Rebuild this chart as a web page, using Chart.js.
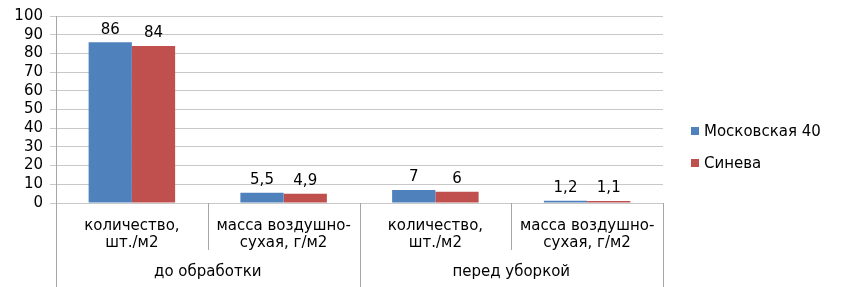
<!DOCTYPE html>
<html>
<head>
<meta charset="utf-8">
<script src="https://cdn.jsdelivr.net/npm/chart.js@4"></script>
<style>
  html, body { margin: 0; padding: 0; background: #fff; }
</style>
</head>
<body>
<canvas id="chart" width="843" height="287"></canvas>
<script>
const categories = [
  ["количество,", "шт./м2"],
  ["масса воздушно-", "сухая, г/м2"],
  ["количество,", "шт./м2"],
  ["масса воздушно-", "сухая, г/м2"],
];
const groups = ["до обработки", "перед уборкой"];
const moskovskaya = [86, 5.5, 7, 1.2];
const sineva = [84, 4.9, 6, 1.1];
const seriesNames = ["Московская 40", "Синева"];

const FONT = "'DejaVu Sans', sans-serif";
const AXIS_COLOR = "#a6a6a6";

// values on top of bars, decimal comma
const valueLabels = {
  id: "valueLabels",
  afterDatasetsDraw(chart) {
    const ctx = chart.ctx;
    ctx.save();
    ctx.font = "15px " + FONT;
    ctx.fillStyle = "#000";
    ctx.textAlign = "center";
    ctx.textBaseline = "bottom";
    chart.data.datasets.forEach((ds, i) => {
      chart.getDatasetMeta(i).data.forEach((bar, j) => {
        const txt = String(ds.data[j]).replace(".", ",");
        ctx.fillText(txt, bar.x, bar.y - 5);
      });
    });
    ctx.restore();
  },
};

// category separators, group labels, and the legend on the right
const groupAxis = {
  id: "groupAxis",
  afterDraw(chart) {
    const ctx = chart.ctx;
    const x = chart.scales.x;
    const area = chart.chartArea;
    const half = (x.getPixelForValue(1) - x.getPixelForValue(0)) / 2;
    const bottom = chart.height;
    ctx.save();
    ctx.strokeStyle = AXIS_COLOR;
    ctx.lineWidth = 1;
    for (let i = 0; i <= categories.length; i++) {
      const px = Math.round(x.getPixelForValue(i) - half) + 0.5;
      const long = i % 2 === 0;
      ctx.beginPath();
      ctx.moveTo(px, area.bottom);
      ctx.lineTo(px, long ? bottom : area.bottom + 47);
      ctx.stroke();
    }
    ctx.font = "15px " + FONT;
    ctx.fillStyle = "#000";
    ctx.textAlign = "center";
    ctx.textBaseline = "middle";
    groups.forEach((g, k) => {
      const cx = (x.getPixelForValue(k * 2) + x.getPixelForValue(k * 2 + 1)) / 2;
      ctx.fillText(g, cx, area.bottom + 69);
    });

    // legend
    const lx = area.right + 28;
    ctx.textAlign = "left";
    chart.data.datasets.forEach((ds, i) => {
      const cy = 131 + i * 32;
      ctx.fillStyle = ds.backgroundColor;
      ctx.fillRect(lx, cy - 4, 8, 8);
      ctx.fillStyle = "#000";
      ctx.fillText(ds.label, lx + 13, cy + 1);
    });
    ctx.restore();
  },
};

new Chart(document.getElementById("chart"), {
  type: "bar",
  data: {
    labels: categories,
    datasets: [
      {
        label: seriesNames[0],
        data: moskovskaya,
        backgroundColor: "#4f81bd",
        categoryPercentage: 0.57,
        barPercentage: 1,
      },
      {
        label: seriesNames[1],
        data: sineva,
        backgroundColor: "#c0504d",
        categoryPercentage: 0.57,
        barPercentage: 1,
      },
    ],
  },
  options: {
    responsive: false,
    animation: false,
    layout: { padding: { top: 12, right: 180, left: 0, bottom: 0 } },
    plugins: {
      legend: { display: false },
      tooltip: { enabled: false },
    },
    scales: {
      x: {
        grid: { display: false, drawTicks: false },
        border: { display: false },
        ticks: {
          color: "#000",
          padding: 14,
          maxRotation: 0,
          autoSkip: false,
          font: { family: FONT, size: 15, lineHeight: 1.15 },
        },
        afterFit: (s) => { s.height = 84; },
      },
      y: {
        min: 0,
        max: 100,
        ticks: {
          stepSize: 10,
          autoSkip: false,
          color: "#000",
          padding: 7,
          font: { family: FONT, size: 15 },
        },
        grid: { color: "#c8c8c8", tickLength: 6, tickColor: "#c8c8c8" },
        border: { color: AXIS_COLOR },
        afterFit: (s) => { s.width = 56; },
      },
    },
  },
  plugins: [valueLabels, groupAxis],
});
</script>
</body>
</html>
